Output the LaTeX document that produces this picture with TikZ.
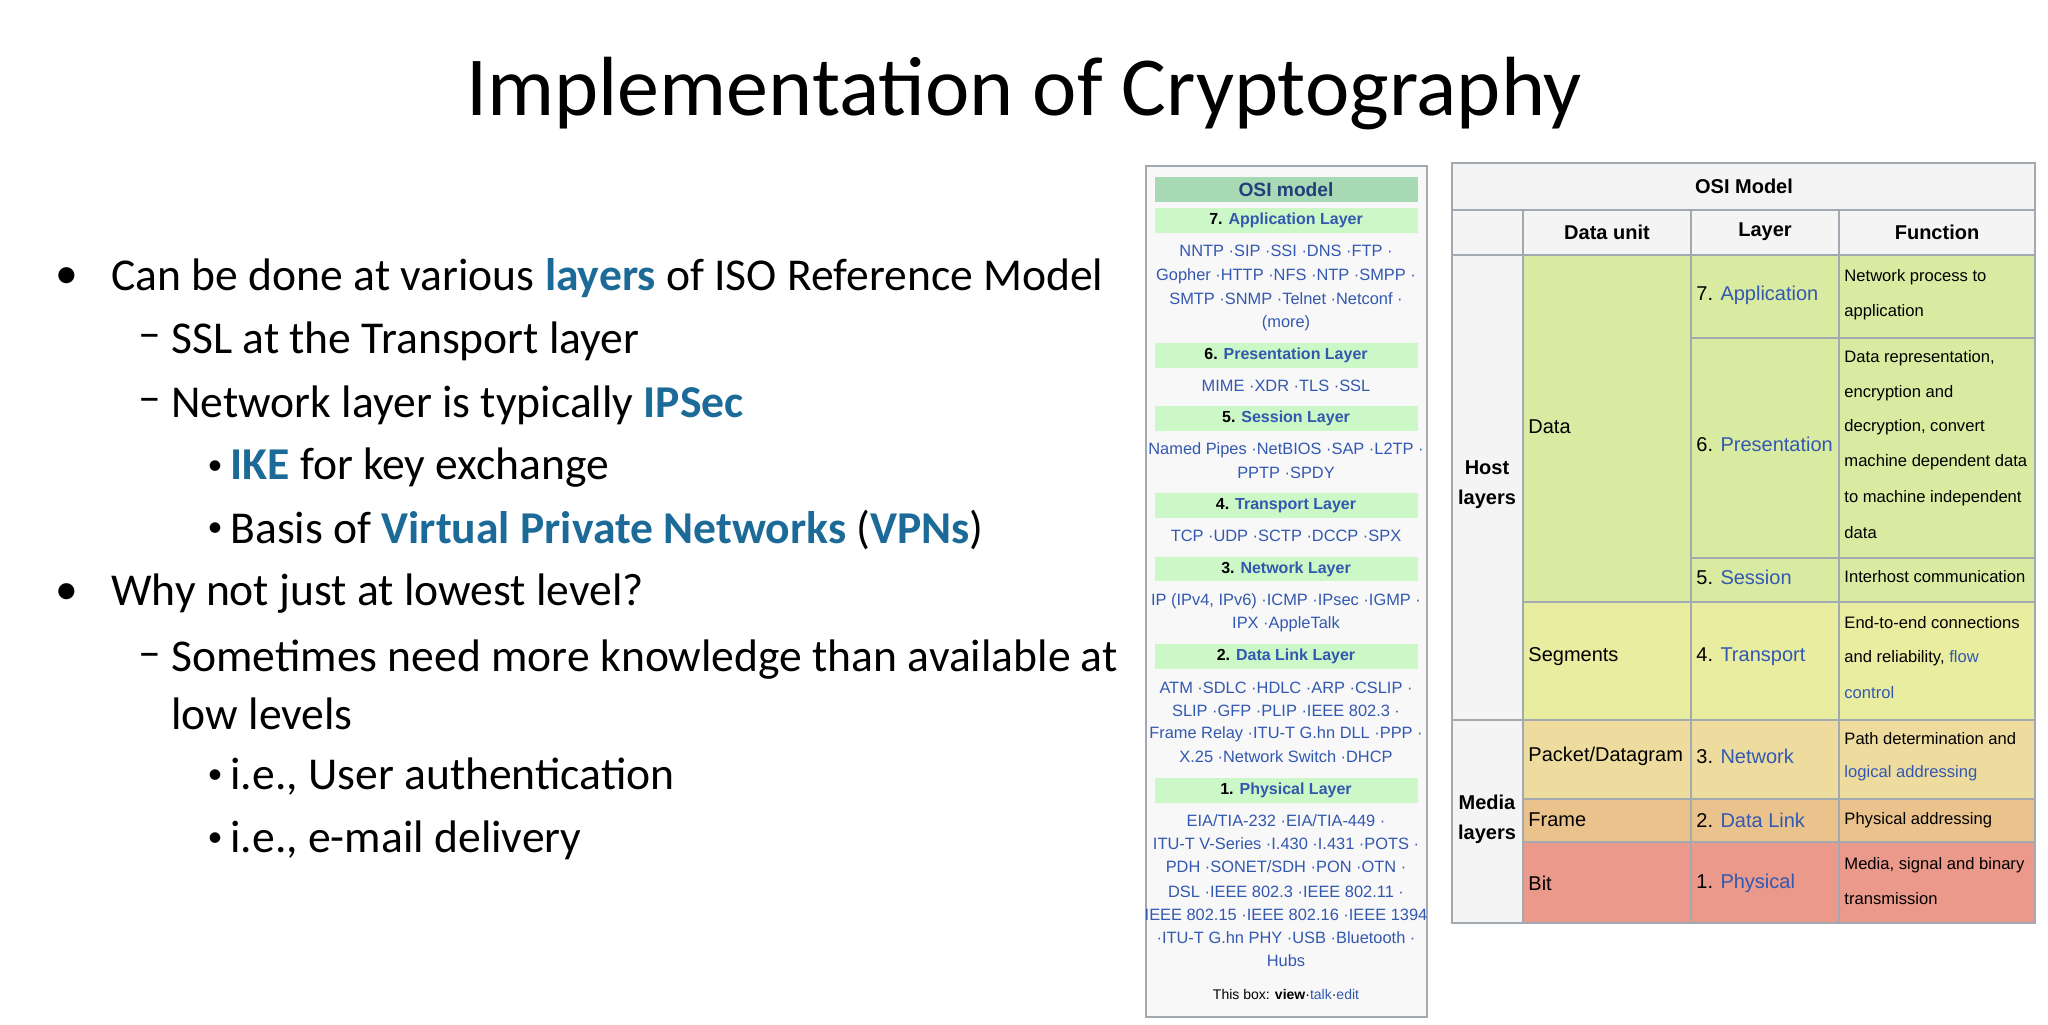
\documentclass[tikz,border=0pt]{standalone}
\usepackage{fontspec}
\setmainfont{Carlito}
\newfontfamily\arial{Liberation Sans}
\definecolor{kw}{HTML}{1B6A98}
\definecolor{lnk}{HTML}{3358B0}
\definecolor{bord}{HTML}{A2A9B1}
\definecolor{hdr}{HTML}{F4F4F4}
\definecolor{osih}{HTML}{A6D9B4}
\definecolor{osis}{HTML}{CCF7C6}
\definecolor{cdata}{HTML}{D9EBA0}
\definecolor{cseg}{HTML}{E8EDA0}
\definecolor{cnet}{HTML}{EEDC9E}
\definecolor{cframe}{HTML}{EAC28C}
\definecolor{cbit}{HTML}{EA998A}
\newcommand{\kwb}[1]{\textcolor{kw}{\textbf{#1}}}
\newcommand{\lk}[1]{\textcolor{lnk}{#1}}
\tikzset{
 bul/.style={anchor=west,font=\fontsize{22.8}{27}\selectfont,inner sep=0pt},
 sbul/.style={font=\fontsize{15}{18}\selectfont,inner sep=0pt},
 il/.style={font=\arial\fontsize{8.2}{10}\selectfont,text=lnk,inner sep=0pt},
 ihead/.style={font=\arial\bfseries\fontsize{8}{10}\selectfont,inner sep=0pt},
 tt/.style={font=\arial\fontsize{10}{12}\selectfont,anchor=west,inner sep=0pt},
 tf/.style={font=\arial\fontsize{8.3}{10}\selectfont,anchor=west,inner sep=0pt},
 th/.style={font=\arial\bfseries\fontsize{10}{12}\selectfont,inner sep=0pt},
 cell/.style={draw=bord,line width=0.6pt},
}
\begin{document}
\begin{tikzpicture}[x=0.5pt,y=-0.5pt]
\useasboundingbox[fill=white] (0,0) rectangle (2048,1024);
\node[font=\fontsize{42}{48}\selectfont] (title) at (1024,94) {Implementation of Cryptography};
% bullets
\node[bul] (b1d) at (55,278) {•}; \node[bul] (b1) at (111,278) {Can be done at various \kwb{layers} of ISO Reference Model};
\node[bul] (b2d) at (138,341) {–}; \node[bul] (b2) at (171,341) {SSL at the Transport layer};
\node[bul] (b3d) at (138,405) {–}; \node[bul] (b3) at (171,405) {Network layer is typically \kwb{IPSec}};
\node[sbul] (b4d) at (215,468) {•}; \node[bul] (b4) at (230,468) {\kwb{IKE} for key exchange};
\node[sbul] (b5d) at (215,530) {•}; \node[bul] (b5) at (230,530) {Basis of \kwb{Virtual Private Networks} (\kwb{VPNs})};
\node[bul] (b6d) at (55,594) {•}; \node[bul] (b6) at (111,594) {Why not just at lowest level?};
\node[bul] (b7d) at (138,660) {–}; \node[bul] (b7) at (171,660) {Sometimes need more knowledge than available at};
\node[bul] (b7b) at (171,714) {low levels};
\node[sbul] (b8d) at (215,777) {•}; \node[bul] (b8) at (230,777) {i.e., User authentication};
\node[sbul] (b9d) at (215,840) {•}; \node[bul] (b9) at (230,840) {i.e., e-mail delivery};
% infobox
\draw[draw=bord,fill=hdr!60!white,line width=0.7pt] (1146,166) rectangle (1427,1017);
\fill[osih] (1155,177) rectangle (1418,202);
\node[font=\arial\bfseries\fontsize{9.6}{11}\selectfont,text=lnk!70!black] (ih) at (1286,189.5) {OSI model};
\foreach \a/\b in {208/233,343/368,406/431,493/518,557/581,644/669,778/803}{\fill[osis] (1155,\a) rectangle (1418,\b);}
\node[ihead] (s7) at (1286,220.5) {7. \lk{Application Layer}};
\node[ihead] (s6) at (1286,355.5) {6. \lk{Presentation Layer}};
\node[ihead] (s5) at (1286,418.5) {5. \lk{Session Layer}};
\node[ihead] (s4) at (1286,505.5) {4. \lk{Transport Layer}};
\node[ihead] (s3) at (1286,569) {3. \lk{Network Layer}};
\node[ihead] (s2) at (1286,656.5) {2. \lk{Data Link Layer}};
\node[ihead] (s1) at (1286,790.5) {1. \lk{Physical Layer}};
\node[il] (a1) at (1286,251) {NNTP ·SIP ·SSI ·DNS ·FTP ·};
\node[il] (a2) at (1286,276) {Gopher ·HTTP ·NFS ·NTP ·SMPP ·};
\node[il] (a3) at (1286,299) {SMTP ·SNMP ·Telnet ·Netconf ·};
\node[il] (a4) at (1286,323) {(more)};
\node[il] (p1) at (1286,386) {MIME ·XDR ·TLS ·SSL};
\node[il] (e1) at (1286,450) {Named Pipes ·NetBIOS ·SAP ·L2TP ·};
\node[il] (e2) at (1286,473) {PPTP ·SPDY};
\node[il] (t1) at (1286,536) {TCP ·UDP ·SCTP ·DCCP ·SPX};
\node[il] (n1) at (1286,601) {IP (IPv4, IPv6) ·ICMP ·IPsec ·IGMP ·};
\node[il] (n2) at (1286,624) {IPX ·AppleTalk};
\node[il] (d1) at (1286,688) {ATM ·SDLC ·HDLC ·ARP ·CSLIP ·};
\node[il] (d2) at (1286,711) {SLIP ·GFP ·PLIP ·IEEE 802.3 ·};
\node[il] (d3) at (1286,734) {Frame Relay ·ITU-T G.hn DLL ·PPP ·};
\node[il] (d4) at (1286,757) {X.25 ·Network Switch ·DHCP};
\node[il] (h1) at (1286,821) {EIA/TIA-232 ·EIA/TIA-449 ·};
\node[il] (h2) at (1286,844) {ITU-T V-Series ·I.430 ·I.431 ·POTS ·};
\node[il] (h3) at (1286,867) {PDH ·SONET/SDH ·PON ·OTN ·};
\node[il] (h4) at (1286,892) {DSL ·IEEE 802.3 ·IEEE 802.11 ·};
\node[il] (h5) at (1286,915) {IEEE 802.15 ·IEEE 802.16 ·IEEE 1394};
\node[il] (h6) at (1286,938) {·ITU-T G.hn PHY ·USB ·Bluetooth ·};
\node[il] (h7) at (1286,961) {Hubs};
\node[font=\arial\fontsize{7}{8}\selectfont,inner sep=0pt] (tb) at (1286,994) {This box: \textbf{view}·\lk{talk}·\lk{edit}};
% OSI table
\fill[hdr] (1452,163) rectangle (2035,923);
\fill[cdata] (1523,255) rectangle (2035,602);
\fill[cseg] (1523,602) rectangle (2035,720);
\fill[cnet] (1523,720) rectangle (2035,799);
\fill[cframe] (1523,799) rectangle (2035,842);
\fill[cbit] (1523,842) rectangle (2035,923);
\draw[cell] (1452,163) rectangle (2035,923);
\draw[cell] (1452,210) -- (2035,210);
\draw[cell] (1452,255) -- (2035,255);
\draw[cell] (1523,210) -- (1523,923);
\draw[cell] (1691,210) -- (1691,923);
\draw[cell] (1839,210) -- (1839,923);
\draw[cell] (1691,338) -- (2035,338);
\draw[cell] (1691,558) -- (2035,558);
\draw[cell] (1523,602) -- (2035,602);
\draw[cell] (1452,720) -- (2035,720);
\draw[cell] (1523,799) -- (2035,799);
\draw[cell] (1523,842) -- (2035,842);
\node[th] (osi) at (1744,186) {OSI Model};
\node[th] (du) at (1607,232) {Data unit};
\node[th] (ly) at (1765,232) {Layer};
\node[th] (fn) at (1937,232) {Function};
\node[th,align=center,font=\arial\bfseries\fontsize{10}{15}\selectfont] (host) at (1487,485) {Host\\layers};
\node[th,align=center,font=\arial\bfseries\fontsize{10}{15}\selectfont] (media) at (1487,819) {Media\\layers};
\node[tt] (u1) at (1528,427) {Data};
\node[tt] (u2) at (1528,657) {Segments};
\node[tt] (u3) at (1528,756) {Packet/Datagram};
\node[tt] (u4) at (1528,820) {Frame};
\node[tt] (u5) at (1528,883) {Bit};
\node[tt] (l7) at (1696,295) {7. \lk{Application}};
\node[tt] (l6) at (1696,444) {6. \lk{Presentation}};
\node[tt] (l5) at (1696,577) {5. \lk{Session}};
\node[tt] (l4) at (1696,657) {4. \lk{Transport}};
\node[tt] (l3) at (1696,756) {3. \lk{Network}};
\node[tt] (l2) at (1696,820) {2. \lk{Data Link}};
\node[tt] (l1) at (1696,883) {1. \lk{Physical}};
\node[tf] (f1) at (1844,277) {Network process to};
\node[tf] (f2) at (1844,312) {application};
\node[tf] (f3) at (1844,358) {Data representation,};
\node[tf] (f4) at (1844,393) {encryption and};
\node[tf] (f5) at (1844,427) {decryption, convert};
\node[tf] (f6) at (1844,462) {machine dependent data};
\node[tf] (f7) at (1844,498) {to machine independent};
\node[tf] (f8) at (1844,533) {data};
\node[tf] (f9) at (1844,577) {Interhost communication};
\node[tf] (f10) at (1844,623) {End-to-end connections};
\node[tf] (f11) at (1844,658) {and reliability, \lk{flow}};
\node[tf] (f12) at (1844,693) {\lk{control}};
\node[tf] (f13) at (1844,739) {Path determination and};
\node[tf] (f14) at (1844,773) {\lk{logical addressing}};
\node[tf] (f15) at (1844,820) {Physical addressing};
\node[tf] (f16) at (1844,865) {Media, signal and binary};
\node[tf] (f17) at (1844,899) {transmission};
\end{tikzpicture}
\end{document}
